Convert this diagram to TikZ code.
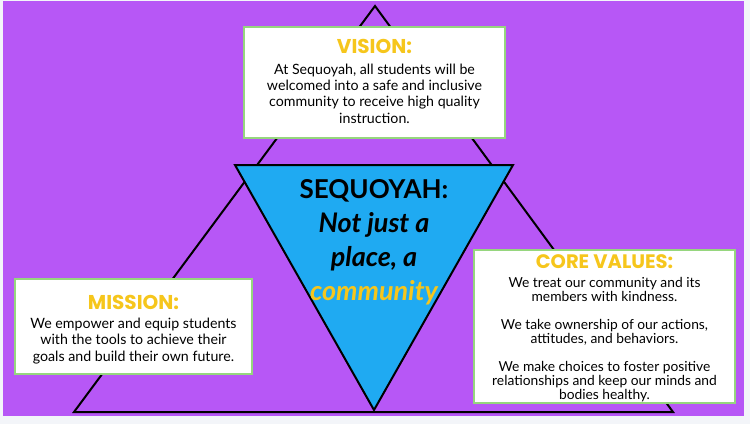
\documentclass[tikz,border=0pt]{standalone}
\usepackage{fontspec}
\setmainfont{Lato}
\newfontfamily\headfont{Poppins}
\usetikzlibrary{positioning}

\definecolor{bgpurple}{RGB}{183,87,246}
\definecolor{skyblue}{RGB}{31,170,242}
\definecolor{gold}{RGB}{246,198,28}
\definecolor{boxgreen}{RGB}{150,214,126}
\definecolor{pagegrey}{RGB}{243,245,249}

\begin{document}
\begin{tikzpicture}[x=1pt, y=-1pt, every node/.style={inner sep=0pt}]
	\tikzset{
		infobox/.style={draw=boxgreen, line width=2pt, fill=white},
		heading/.style={text=gold, font=\headfont\bfseries\fontsize{20}{22}\selectfont},
		bodytext/.style={align=center, font=\fontsize{14.2}{16.3}\selectfont},
		bigtext/.style={align=center, font=\bfseries\itshape\fontsize{27}{34}\selectfont}
	}
	\useasboundingbox (0,0) rectangle (750,424);
	
	% --- background ---
	\fill[pagegrey] (0,0) rectangle (750,424);
	\fill[bgpurple] (3,1) rectangle (744,416);
	
	% --- outer triangle ---
	\draw[line width=2pt, line join=miter] (375,6) -- (673,412) -- (74,412) -- cycle;
	
	% --- inner (upside down) triangle ---
	\draw[line width=2pt, fill=skyblue] (235,165) -- (513,165) -- (374,410) -- cycle;
	
	\node[bigtext] (motto) at (374,242) {{\upshape\fontsize{26}{34}\selectfont SEQUOYAH:}\\Not just a\\place, a\\\textcolor{gold}{community}};
	
	% --- vision ---
	\node[infobox, minimum width=261pt, minimum height=111pt] (vision) at (374.5,82.5) {};
	\node[heading] (visionhead) at (374.5,46) {VISION:};
	\node[bodytext] (visiontext) at (374.5,93.5) {At Sequoyah, all students will be\\welcomed into a safe and inclusive\\community to receive high quality\\instruction.};
	
	% --- mission ---
	\node[infobox, minimum width=237pt, minimum height=95pt] (mission) at (133.5,326.5) {};
	\node[heading] (missionhead) at (133.5,302) {MISSION:};
	\node[bodytext] (missiontext) at (133.5,341) {We empower and equip students\\with the tools to achieve their\\goals and build their own future.};
	
	% --- core values ---
	\node[infobox, minimum width=261pt, minimum height=153pt] (values) at (604.5,326.5) {};
	\node[heading, font=\headfont\bfseries\fontsize{19.5}{21}\selectfont] (valueshead) at (604.5,261.5) {CORE VALUES:};
	\node[bodytext, font=\fontsize{13.8}{14}\selectfont] (valuestext) at (604.5,339.5) {We treat our community and its\\members with kindness.\\[14pt]We take ownership of our actions,\\attitudes, and behaviors.\\[14pt]We make choices to foster positive\\relationships and keep our minds and\\bodies healthy.};
\end{tikzpicture}
\end{document}
